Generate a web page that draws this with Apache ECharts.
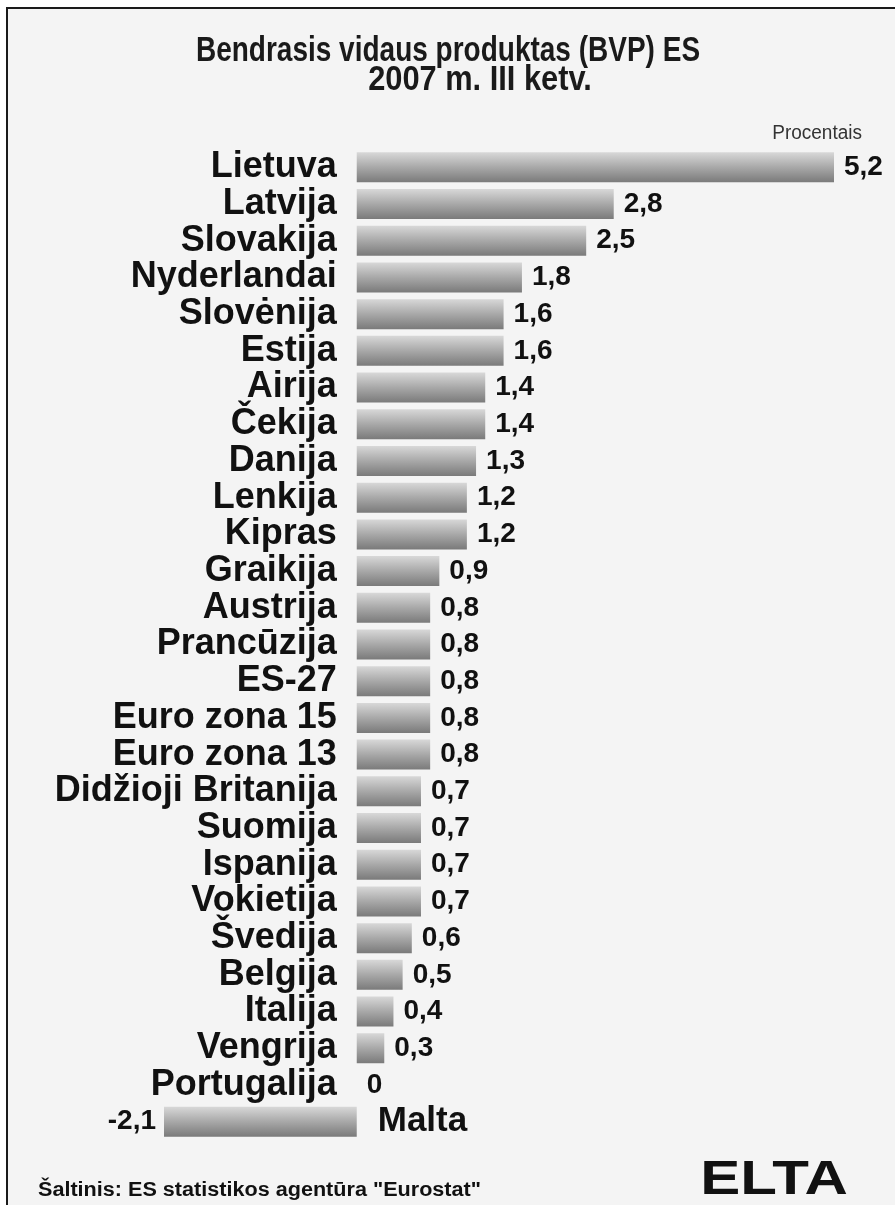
<!DOCTYPE html>
<html><head><meta charset="utf-8">
<script src="https://cdn.jsdelivr.net/npm/echarts@6/dist/echarts.min.js"></script>
<style>html,body{margin:0;padding:0;background:#fff}#c{width:895px;height:1205px}</style>
</head><body><div id="c"></div>
<script>
const categories = ['Lietuva','Latvija','Slovakija','Nyderlandai','Slovėnija','Estija','Airija','Čekija','Danija','Lenkija','Kipras','Graikija','Austrija','Prancūzija','ES-27','Euro zona 15','Euro zona 13','Didžioji Britanija','Suomija','Ispanija','Vokietija','Švedija','Belgija','Italija','Vengrija','Portugalija','Malta'];
const values = [5.2,2.8,2.5,1.8,1.6,1.6,1.4,1.4,1.3,1.2,1.2,0.9,0.8,0.8,0.8,0.8,0.8,0.7,0.7,0.7,0.7,0.6,0.5,0.4,0.3,0,-2.1];
const titleLines = ['Bendrasis vidaus produktas (BVP) ES','2007 m. III ketv.'];
const unitText = 'Procentais';
const sourceText = 'Šaltinis: ES statistikos agentūra "Eurostat"';
const logoText = 'ELTA';

const FONT = '"Liberation Sans", Arial, sans-serif';
const grad = new echarts.graphic.LinearGradient(0,0,0,1,[
  {offset:0,color:'#d8d8d8'},{offset:0.5,color:'#a8a8a8'},{offset:1,color:'#7a7a7a'}]);
const fmt = v => String(v).replace('.', ',');
const negName = categories[values.findIndex(v => v < 0)];

const X_MIN = -2.1, X_MAX = 5.2, GRID_LEFT = 164, GRID_W = 670;
const zeroOffset = -GRID_W * (0 - X_MIN) / (X_MAX - X_MIN);

const barData = values.map(v => v < 0
  ? {value: v, label: {position: 'left', distance: 8}}
  : {value: v});
const nameData = values.map((v,i) => v < 0 ? [0, i] : null).filter(Boolean);

const chart = echarts.init(document.getElementById('c'));
chart.setOption({
  animation: false,
  backgroundColor: '#fff',
  grid: {left: GRID_LEFT, width: GRID_W, top: 149, height: 991, containLabel: false, outerBoundsMode: 'none'},
  xAxis: {type: 'value', min: X_MIN, max: X_MAX, show: false},
  yAxis: {
    type: 'category', data: categories, inverse: true, offset: zeroOffset,
    axisLine: {show: false, onZero: false},
    axisTick: {show: false}, splitLine: {show: false},
    axisLabel: {
      interval: 0, margin: 20, fontSize: 36, fontWeight: 'bold', color: '#111', fontFamily: FONT,
      hideOverlap: false,
      formatter: v => v === negName ? '' : v
    }
  },
  graphic: [
    {type: 'rect', z: -10, shape: {x: 7, y: 8, width: 920, height: 1230},
     style: {fill: '#f4f4f4', stroke: '#1a1a1a', lineWidth: 2}},
    {type: 'text', x: 448, y: 51, scaleX: 0.8,
     style: {text: titleLines[0], font: 'bold 35px ' + FONT, fill: '#1a1a1a',
       textAlign: 'center', textVerticalAlign: 'middle', align: 'center', verticalAlign: 'middle'}},
    {type: 'text', x: 480, y: 80, scaleX: 0.88,
     style: {text: titleLines[1], font: 'bold 35px ' + FONT, fill: '#1a1a1a',
       textAlign: 'center', textVerticalAlign: 'middle', align: 'center', verticalAlign: 'middle'}},
    {type: 'text', x: 862, y: 133, scaleX: 0.95,
     style: {text: unitText, font: '20px ' + FONT, fill: '#333',
       textAlign: 'right', textVerticalAlign: 'middle', align: 'right', verticalAlign: 'middle'}},
    {type: 'text', x: 38, y: 1190, scaleX: 1.08,
     style: {text: sourceText, font: 'bold 20px ' + FONT, fill: '#111',
       textAlign: 'left', textVerticalAlign: 'middle', align: 'left', verticalAlign: 'middle'}},
    {type: 'text', x: 774, y: 1181, scaleX: 1.25,
     style: {text: logoText, font: 'bold 48px ' + FONT, fill: '#111',
       textAlign: 'center', textVerticalAlign: 'middle', align: 'center', verticalAlign: 'middle'}}
  ],
  series: [
    {
      type: 'bar', data: barData, barWidth: 30, silent: true,
      itemStyle: {color: grad},
      label: {show: true, position: 'right', distance: 10, formatter: p => fmt(p.value),
        fontSize: 28, fontWeight: 'bold', color: '#111', fontFamily: FONT}
    },
    {
      type: 'scatter', data: nameData, symbolSize: 0, silent: true,
      itemStyle: {opacity: 1},
      label: {show: true, position: 'right', distance: 21, formatter: () => negName,
        fontSize: 35, fontWeight: 'bold', color: '#111', fontFamily: FONT}
    }
  ]
});
</script></body></html>
